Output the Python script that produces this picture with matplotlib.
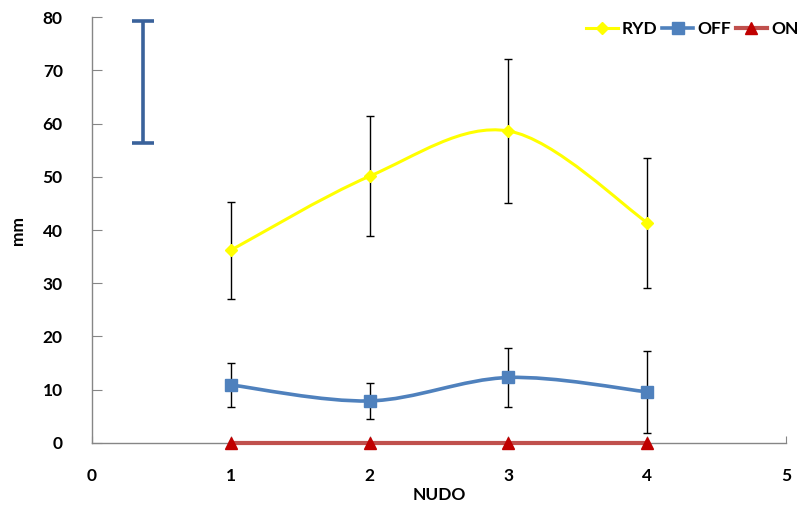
import matplotlib
matplotlib.use("Agg")
import matplotlib.pyplot as plt
from matplotlib.path import Path
from matplotlib.patches import PathPatch

nudo = [1, 2, 3, 4]
ryd = [36.2, 50.1, 58.6, 41.4]
ryd_err = [9.1, 11.3, 13.6, 12.2]
off = [10.9, 7.9, 12.3, 9.6]
off_err = [4.15, 3.4, 5.45, 7.65]
on = [0, 0, 0, 0]

# standalone bar in the upper left corner
bar_x = 0.37
bar_low = 56.3
bar_high = 79.2


def smooth_path(xs, ys):
    # Excel-like smoothed line: cubic bezier through each point
    pts = list(zip(xs, ys))
    verts = [pts[0]]
    codes = [Path.MOVETO]
    n = len(pts)
    for i in range(n - 1):
        p0 = pts[i - 1] if i > 0 else pts[i]
        p1 = pts[i]
        p2 = pts[i + 1]
        p3 = pts[i + 2] if i + 2 < n else pts[i + 1]
        c1 = (p1[0] + (p2[0] - p0[0]) / 6, p1[1] + (p2[1] - p0[1]) / 6)
        c2 = (p2[0] - (p3[0] - p1[0]) / 6, p2[1] - (p3[1] - p1[1]) / 6)
        verts += [c1, c2, p2]
        codes += [Path.CURVE4] * 3
    return Path(verts, codes)


plt.rcParams['font.family'] = ['Lato', 'DejaVu Sans']
fs = 12.5

fig = plt.figure(figsize=(8.09, 5.05), dpi=100)
ax = fig.add_axes([0.1137, 0.1228, 0.8579, 0.8435])

ax.add_patch(PathPatch(smooth_path(nudo, ryd), fill=False, edgecolor='#FFFF00', lw=2.2, zorder=3))
ax.add_patch(PathPatch(smooth_path(nudo, off), fill=False, edgecolor='#4F81BD', lw=2.6, zorder=3))

ax.errorbar(nudo, ryd, yerr=ryd_err, fmt='none', ecolor='black', elinewidth=1, capsize=3, capthick=1, zorder=2)
ax.errorbar(nudo, off, yerr=off_err, fmt='none', ecolor='black', elinewidth=1, capsize=3, capthick=1, zorder=2)

ax.plot(nudo, ryd, color='#FFFF00', lw=2.2, marker='D', markersize=6, label='RYD', zorder=4, linestyle='none')
ax.plot(nudo, off, color='#4F81BD', lw=2.6, marker='s', markersize=8, label='OFF', zorder=4, linestyle='none')
ax.plot(nudo, on, color='#C0504D', lw=3, marker='^', markersize=8, markerfacecolor='#C00000',
        markeredgecolor='#C00000', label='ON', zorder=5, clip_on=False)

ax.errorbar([bar_x], [(bar_low + bar_high) / 2], yerr=[(bar_high - bar_low) / 2], fmt='none',
            ecolor='#3A629B', elinewidth=2.6, capsize=8, capthick=2.6)

ax.set_xlim(0, 5)
ax.set_ylim(0, 80)
ax.set_xticks(range(0, 6))
ax.set_yticks(range(0, 81, 10))

for s in ['top', 'right']:
    ax.spines[s].set_visible(False)
for s in ['left', 'bottom']:
    ax.spines[s].set_color('#868686')
    ax.spines[s].set_linewidth(1)

ax.tick_params(axis='y', direction='in', length=7, color='#868686', pad=21, labelsize=fs)
ax.tick_params(axis='x', direction='in', length=5, color='#868686', pad=18, labelsize=fs)
for lab in ax.get_xticklabels() + ax.get_yticklabels():
    lab.set_fontweight('bold')

ax.set_xlabel('NUDO', fontweight='bold', fontsize=fs, labelpad=2)
ax.set_ylabel('mm', fontweight='bold', fontsize=fs, labelpad=12)

# legend handles with lines through the markers
h1, = ax.plot([], [], color='#FFFF00', lw=2.2, marker='D', markersize=6)
h2, = ax.plot([], [], color='#4F81BD', lw=2.6, marker='s', markersize=8)
h3, = ax.plot([], [], color='#C0504D', lw=3, marker='^', markersize=8,
              markerfacecolor='#C00000', markeredgecolor='#C00000')
leg = fig.legend([h1, h2, h3], ['RYD', 'OFF', 'ON'], loc='center right', bbox_to_anchor=(1.0, 0.943),
                 ncol=3, frameon=False, handlelength=1.8, handletextpad=0.25, columnspacing=0.25,
                 borderaxespad=0.2, prop={'weight': 'bold', 'size': fs})

plt.savefig("out.png", dpi=100)
